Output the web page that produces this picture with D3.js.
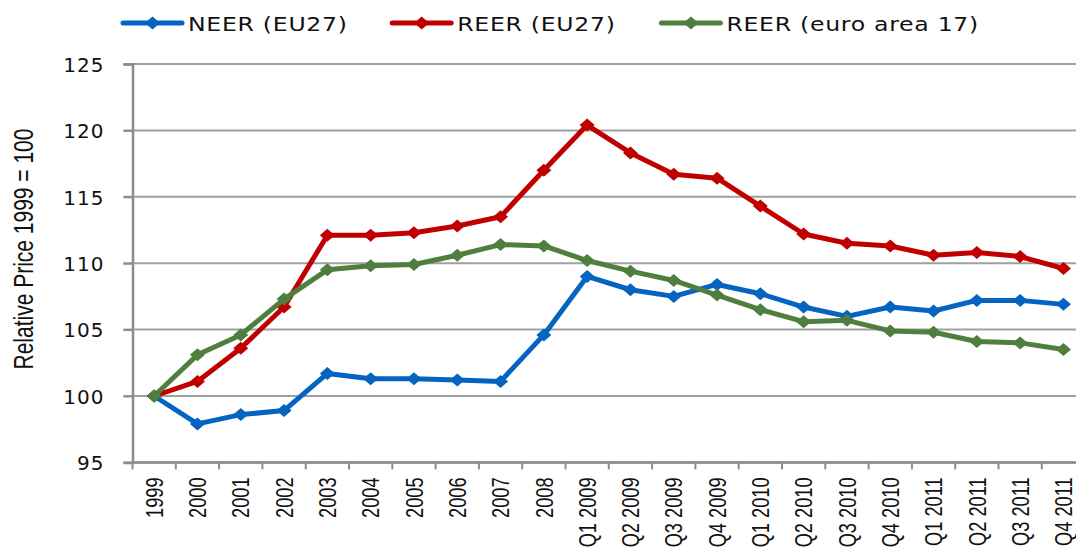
<!DOCTYPE html>
<html>
<head>
<meta charset="utf-8">
<script src="https://cdn.jsdelivr.net/npm/d3@7"></script>
<style>
  body { margin: 0; background: #fff; }
  svg { display: block; }
</style>
</head>
<body>
<svg id="chart"></svg>
<script>
// categories on the x axis
const periods = ["1999", "2000", "2001", "2002", "2003", "2004", "2005", "2006", "2007", "2008",
    "Q1 2009", "Q2 2009", "Q3 2009", "Q4 2009", "Q1 2010", "Q2 2010", "Q3 2010", "Q4 2010",
    "Q1 2011", "Q2 2011", "Q3 2011", "Q4 2011"];

// series values (1999 = 100)
const neerEU27 = [100, 97.9, 98.6, 98.9, 101.7, 101.3, 101.3, 101.2, 101.1, 104.6,
    109.0, 108.0, 107.5, 108.4, 107.7, 106.7, 106.0, 106.7, 106.4, 107.2, 107.2, 106.9];
const reerEU27 = [100, 101.1, 103.6, 106.7, 112.1, 112.1, 112.3, 112.8, 113.5, 117.0,
    120.4, 118.3, 116.7, 116.4, 114.3, 112.2, 111.5, 111.3, 110.6, 110.8, 110.5, 109.6];
const reerEA17 = [100, 103.1, 104.6, 107.3, 109.5, 109.8, 109.9, 110.6, 111.4, 111.3,
    110.2, 109.4, 108.7, 107.6, 106.5, 105.6, 105.7, 104.9, 104.8, 104.1, 104.0, 103.5];

const seriesNames = ["NEER (EU27)", "REER (EU27)", "REER (euro area 17)"];
const yTicks = [95, 100, 105, 110, 115, 120, 125];

const series = [
    { name: seriesNames[0], values: neerEU27, color: "#0563c1" },
    { name: seriesNames[1], values: reerEU27, color: "#c00000" },
    { name: seriesNames[2], values: reerEA17, color: "#4f7f3e" }
];

const W = 1076, H = 550;
const plotLeft = 132.5, plotTop = 64, plotBottom = 462.4, step = 43.3;

const svg = d3.select("#chart").attr("width", W).attr("height", H);

const x = d3.scaleBand()
    .domain(periods)
    .range([plotLeft, plotLeft + step * periods.length]);

const y = d3.scaleLinear()
    .domain([95, 125])
    .range([plotBottom, plotTop]);

const axisColor = "#8c8c8c";

// horizontal grid lines
svg.append("g")
    .selectAll("line")
    .data(yTicks)
    .join("line")
    .attr("x1", plotLeft - 9)
    .attr("x2", W)
    .attr("y1", d => y(d))
    .attr("y2", d => y(d))
    .attr("stroke", "#a0a0a0")
    .attr("stroke-width", 2);

// y axis
const yAxisGroup = svg.append("g")
    .attr("transform", `translate(${plotLeft},0)`)
    .call(d3.axisLeft(y).tickValues(yTicks).tickSize(9).tickPadding(0).tickFormat(d3.format("d")));
yAxisGroup.select(".domain").attr("stroke", axisColor).attr("stroke-width", 2.5);
yAxisGroup.selectAll("line").attr("stroke", axisColor).attr("stroke-width", 2);
yAxisGroup.selectAll("text")
    .attr("x", -28)
    .attr("dy", "0.36em")
    .attr("fill", "#111")
    .style("font-family", "DejaVu Sans, Verdana, sans-serif")
    .style("font-size", "20px")
    .style("letter-spacing", "1px");

// x axis: ticks at the category boundaries, labels rotated
const xAxisGroup = svg.append("g")
    .attr("transform", `translate(0,${plotBottom})`);
xAxisGroup.append("line")
    .attr("x1", plotLeft).attr("x2", W)
    .attr("stroke", axisColor).attr("stroke-width", 2.5);
xAxisGroup.selectAll(".tick")
    .data(periods)
    .join("line")
    .attr("class", "tick")
    .attr("x1", d => x(d)).attr("x2", d => x(d))
    .attr("y1", 0).attr("y2", 7)
    .attr("stroke", axisColor).attr("stroke-width", 2);
xAxisGroup.selectAll(".lbl")
    .data(periods)
    .join("text")
    .attr("class", "lbl")
    .attr("transform", d => `translate(${x(d) + x.bandwidth() / 2},15) rotate(-90) scale(0.76,1)`)
    .attr("dy", "0.36em")
    .attr("text-anchor", "end")
    .attr("fill", "#111")
    .style("font-family", "Liberation Sans, Arial, sans-serif")
    .style("font-size", "24px")
    .text(d => d);

// y axis title
svg.append("text")
    .attr("transform", `translate(23,249) rotate(-90) scale(0.75,1)`)
    .attr("dy", "0.36em")
    .attr("text-anchor", "middle")
    .attr("fill", "#111")
    .style("font-family", "Liberation Sans, Arial, sans-serif")
    .style("font-size", "28px")
    .text("Relative Price 1999 = 100");

const diamond = "M0,-6.5L7.5,0L0,6.5L-7.5,0Z";

// lines and markers
const line = d3.line()
    .x((d, i) => x(periods[i]) + x.bandwidth() / 2)
    .y(d => y(d));

series.forEach(s => {
    svg.append("path")
        .datum(s.values)
        .attr("d", line)
        .attr("fill", "none")
        .attr("stroke", s.color)
        .attr("stroke-width", 5)
        .attr("stroke-linejoin", "round");
    svg.append("g")
        .selectAll("path")
        .data(s.values)
        .join("path")
        .attr("d", diamond)
        .attr("transform", (d, i) => `translate(${x(periods[i]) + x.bandwidth() / 2},${y(d)})`)
        .attr("fill", s.color);
});

// legend
const legend = svg.append("g").attr("transform", "translate(123,23)");
const item = legend.selectAll("g")
    .data(series)
    .join("g")
    .attr("transform", (d, i) => `translate(${i * 269.2},0)`);
item.append("line")
    .attr("x1", 0).attr("x2", 59)
    .attr("stroke", d => d.color)
    .attr("stroke-width", 5)
    .attr("stroke-linecap", "round");
item.append("path")
    .attr("d", diamond)
    .attr("transform", "translate(29.5,0)")
    .attr("fill", d => d.color);
item.append("text")
    .attr("transform", "translate(65,8) scale(1.18,1)")
    .attr("fill", "#111")
    .style("font-family", "DejaVu Sans, Verdana, sans-serif")
    .style("font-size", "20px")
    .style("letter-spacing", "0.6px")
    .text(d => d.name);
</script>
</body>
</html>
